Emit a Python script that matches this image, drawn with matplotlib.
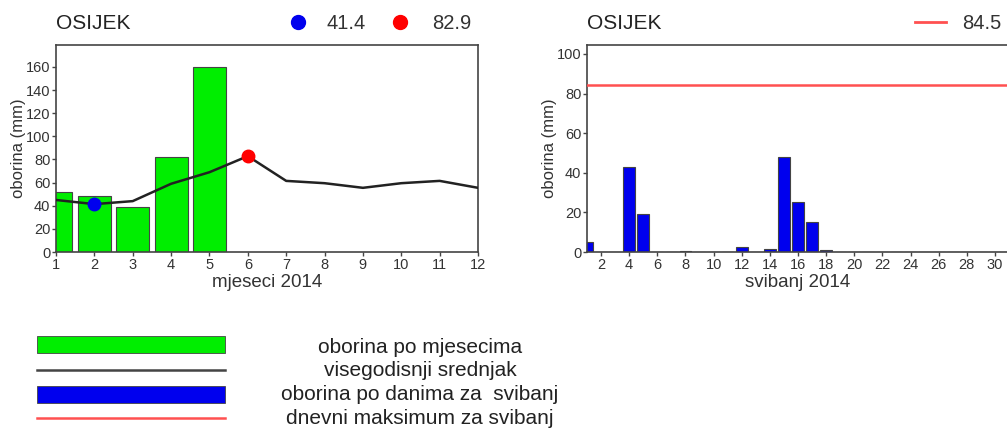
import matplotlib.pyplot as plt
from matplotlib.lines import Line2D
from matplotlib.patches import Rectangle

plt.rcParams['font.family'] = ['Liberation Sans', 'DejaVu Sans']

# monthly precipitation 2014 and long-term mean
months = [1, 2, 3, 4, 5, 6, 7, 8, 9, 10, 11, 12]
monthly_rain = [52, 48, 39, 82, 160]
longterm_mean = [45, 41.4, 44, 59, 69, 82.9, 61.5, 59.5, 55.5, 59.5, 61.5, 55.5]
min_month, min_value = 2, 41.4
max_month, max_value = 6, 82.9

# daily precipitation for May 2014
days = list(range(1, 32))
daily_rain = [5, 0, 0, 43, 19, 0, 0, 0.5, 0, 0, 0, 2.5, 0, 1.5, 48, 25, 15, 1,
              0, 0, 0, 0, 0, 0, 0, 0, 0, 0, 0, 0, 0]
daily_max = 84.5

green = '#00ee00'
blue = '#0000ee'
red = '#ff5050'
frame = '#444444'
txt = '#333333'

fig = plt.figure(figsize=(10.07, 4.36), dpi=100)

# ---- left panel: monthly ----
ax1 = fig.add_axes([0.0556, 0.422, 0.4191, 0.4748])
ax1.bar(months[:len(monthly_rain)], monthly_rain, width=0.86, color=green,
        edgecolor=frame, linewidth=0.8, zorder=2)
ax1.plot(months, longterm_mean, color='#222222', linewidth=1.8, zorder=3)
ax1.plot([min_month], [min_value], 'o', color=blue, markersize=9, zorder=4)
ax1.plot([max_month], [max_value], 'o', color='red', markersize=9, zorder=4)
ax1.set_xlim(1, 12)
ax1.set_ylim(0, 179)
ax1.set_xticks(months)
ax1.set_yticks(range(0, 161, 20))
ax1.set_xlabel('mjeseci 2014', fontsize=13.5, labelpad=1.5, color=txt)
ax1.set_ylabel('oborina (mm)', fontsize=12, labelpad=0, color=txt)
ax1.text(0, 1.106, 'OSIJEK', transform=ax1.transAxes, fontsize=15, va='center', ha='left', color='#222222')
ax1.plot([0.573], [1.111], 'o', color=blue, markersize=10, transform=ax1.transAxes, clip_on=False)
ax1.text(0.642, 1.106, '41.4', transform=ax1.transAxes, fontsize=14.5, va='center', color=txt)
ax1.plot([0.815], [1.111], 'o', color='red', markersize=10, transform=ax1.transAxes, clip_on=False)
ax1.text(0.891, 1.106, '82.9', transform=ax1.transAxes, fontsize=14.5, va='center', color=txt)

# ---- right panel: daily ----
ax2 = fig.add_axes([0.5829, 0.422, 0.4191, 0.4748])
ax2.bar(days, daily_rain, width=0.83, color=blue, edgecolor=frame, linewidth=0.8, zorder=2)
ax2.axhline(daily_max, color=red, linewidth=1.8, zorder=3)
ax2.set_xlim(1, 31)
ax2.set_ylim(0, 104.5)
ax2.set_xticks(range(2, 31, 2))
ax2.set_yticks(range(0, 101, 20))
ax2.set_xlabel('svibanj 2014', fontsize=13.5, labelpad=1.5, color=txt)
ax2.set_ylabel('oborina (mm)', fontsize=12, labelpad=0, color=txt)
ax2.text(0, 1.106, 'OSIJEK', transform=ax2.transAxes, fontsize=15, va='center', ha='left', color='#222222')
ax2.plot([0.777, 0.851], [1.111, 1.111], color=red, linewidth=2, transform=ax2.transAxes, clip_on=False)
ax2.text(0.889, 1.106, '84.5', transform=ax2.transAxes, fontsize=14.5, va='center', color=txt)

for ax in (ax1, ax2):
    for s in ax.spines.values():
        s.set_color(frame)
        s.set_linewidth(1.2)
    ax.tick_params(direction='out', length=3, width=1, color=frame, labelsize=10.5,
                   pad=1, labelcolor=txt)

# ---- bottom legend ----
fig.add_artist(Rectangle((0.0367, 0.190), 0.1867, 0.039, transform=fig.transFigure,
                         facecolor=green, edgecolor=frame, linewidth=0.6))
fig.add_artist(Line2D([0.0367, 0.2234], [0.151, 0.151], transform=fig.transFigure,
                      color='#444444', linewidth=1.8))
fig.add_artist(Rectangle((0.0367, 0.0757), 0.1867, 0.039, transform=fig.transFigure,
                         facecolor=blue, edgecolor=frame, linewidth=0.6))
fig.add_artist(Line2D([0.0367, 0.2234], [0.041, 0.041], transform=fig.transFigure,
                      color=red, linewidth=1.8))
legend_labels = ['oborina po mjesecima', 'visegodisnji srednjak',
                 'oborina po danima za  svibanj', 'dnevni maksimum za svibanj']
for lab, y in zip(legend_labels, [0.204, 0.151, 0.095, 0.041]):
    fig.text(0.417, y, lab, ha='center', va='center', fontsize=15, color='#222222')

plt.savefig('out.png', dpi=100)
